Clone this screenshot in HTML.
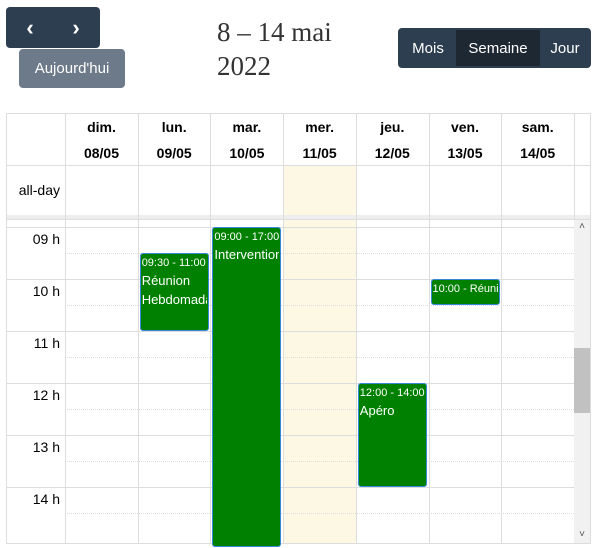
<!DOCTYPE html>
<html><head><meta charset="utf-8"><style>
body{margin:0;width:596px;height:548px;background:#fff;font-family:"Liberation Sans",sans-serif;position:relative;overflow:hidden}
.abs{position:absolute}
.btn{position:absolute;color:#fff;font-size:15px;display:flex;align-items:center;justify-content:center;box-sizing:border-box}
.vl{position:absolute;width:1px;background:#ddd}
.hl{position:absolute;height:1px;background:#ddd}
.dl{position:absolute;height:0;border-top:1px dotted #ddd}
.hd{position:absolute;top:113px;height:52px;text-align:center;font-weight:bold;font-size:14px;line-height:26px;color:#000}
.lbl{position:absolute;left:6px;width:54px;text-align:right;font-size:14px;color:#000}
.ev{position:absolute;background:#008000;border:1px solid #3788d8;border-radius:3px;box-sizing:border-box;color:#fff;overflow:hidden;padding:1px 1px}
.ev .t{font-size:11px;line-height:16px;white-space:nowrap;overflow:hidden}.ev .n{font-size:13px;line-height:19px;white-space:normal;overflow:hidden}
.ev .n span{white-space:nowrap;display:block}
</style></head><body>
<div class="btn" style="left:6px;top:7px;width:94px;height:41px;background:#2c3e50;border-radius:4px"></div>
<div class="btn" style="left:10px;top:10px;width:40px;height:36px;font-size:22px;font-weight:bold">&#8249;</div>
<div class="btn" style="left:56px;top:10px;width:40px;height:36px;font-size:22px;font-weight:bold">&#8250;</div>
<div class="btn" style="left:19px;top:49px;width:106px;height:39px;background:#6c7a89;border-radius:4px">Aujourd'hui</div>
<div class="abs" style="left:217px;top:15px;font-family:'Liberation Serif',serif;font-size:27px;line-height:34px;color:#333">8 – 14 mai<br>2022</div>
<div class="btn" style="left:398px;top:28px;width:193px;height:40px;background:#2c3e50;border-radius:4px"></div>
<div class="btn" style="left:400px;top:30px;width:56px;height:36px">Mois</div>
<div class="btn" style="left:456px;top:30px;width:84px;height:36px;background:#1e2833">Semaine</div>
<div class="btn" style="left:540px;top:30px;width:50px;height:36px">Jour</div>
<div id="cal"></div>
<script>
const days=["dim.","lun.","mar.","mer.","jeu.","ven.","sam."];
const dates=["08/05","09/05","10/05","11/05","12/05","13/05","14/05"];
const hours=[9,10,11,12,13,14];
const evDay=[1,2,4,5];
const evStart=[9.5,9,12,10];
const evEnd=[11,17,14,10.5];
const evTime=["09:30 - 11:00","09:00 - 17:00","12:00 - 14:00","10:00 - Réunion"];
const evName=["Réunion Hebdomadaire","Intervention","Apéro",""];
const cal=document.getElementById('cal');
const colX=d=>65+d*72.7, y=h=>227+(h-9)*52, TOP=220, BOT=543;
function add(cls,st,html){const e=document.createElement('div');e.className=cls;e.style.cssText=st;if(html)e.innerHTML=html;cal.appendChild(e);return e;}
let e=add('abs',`left:${colX(3)}px;top:165px;width:73px;height:50px;background:#fcf8e3`);


e=add('abs',`left:${colX(3)}px;top:${TOP}px;width:73px;height:${BOT-TOP}px;background:#fcf8e3`);


[113,165,215,219].forEach(v=>add('hl',`left:6px;width:585px;top:${v}px`));
add('abs','left:6px;top:215px;width:585px;height:4px;background:#eee');
add('hl',`left:6px;width:585px;top:${BOT}px`);
for(let h=8.5;h<=14.5;h+=0.5){const yy=y(h);if(yy<TOP||yy>BOT)continue;
 if(h%1===0)add('hl',`left:6px;width:568px;top:${yy}px`);else add('dl',`left:65px;width:509px;top:${yy}px`);}
add('vl',`left:6px;top:113px;height:${BOT-113}px`);
for(let d=0;d<=7;d++)add('vl',`left:${Math.round(colX(d))}px;top:113px;height:${BOT-113}px`);
add('vl',`left:590px;top:113px;height:${BOT-113}px`);
days.forEach((dn,i)=>{const h=add('hd',`left:${colX(i)}px;width:73px;padding-top:1px`,dn+'<br>'+dates[i]);

});
e=add('lbl','top:182px;left:6px;width:54px;font-size:14px','all-day');


hours.forEach(h=>{const l=add('lbl',`top:${y(h)+4}px`,(h<10?'0':'')+h+' h');

});
evDay.forEach((d,i)=>{const top=y(evStart[i]);const bot=Math.min(y(evEnd[i]),BOT+4);
const words=evName[i]?evName[i].split(' ').map(w=>`<span>${w}</span>`).join(''):'';
const ev=add('ev',`left:${colX(d)+2}px;width:69px;top:${top}px;height:${bot-top}px`,
`<div class="t">${evTime[i]}</div>`+(words?`<div class="n">${words}</div>`:''));

});
e=add('abs',`left:574px;top:${TOP}px;width:16px;height:${BOT-TOP}px;background:#f1f1f1`);


e=add('abs','left:574px;top:348px;width:16px;height:65px;background:#c1c1c1');


add('abs',`left:574px;top:221px;width:16px;text-align:center;font-size:10px;color:#505050`,'&#708;');
add('abs',`left:574px;top:529px;width:16px;text-align:center;font-size:10px;color:#505050`,'&#709;');
</script>
</body></html>
